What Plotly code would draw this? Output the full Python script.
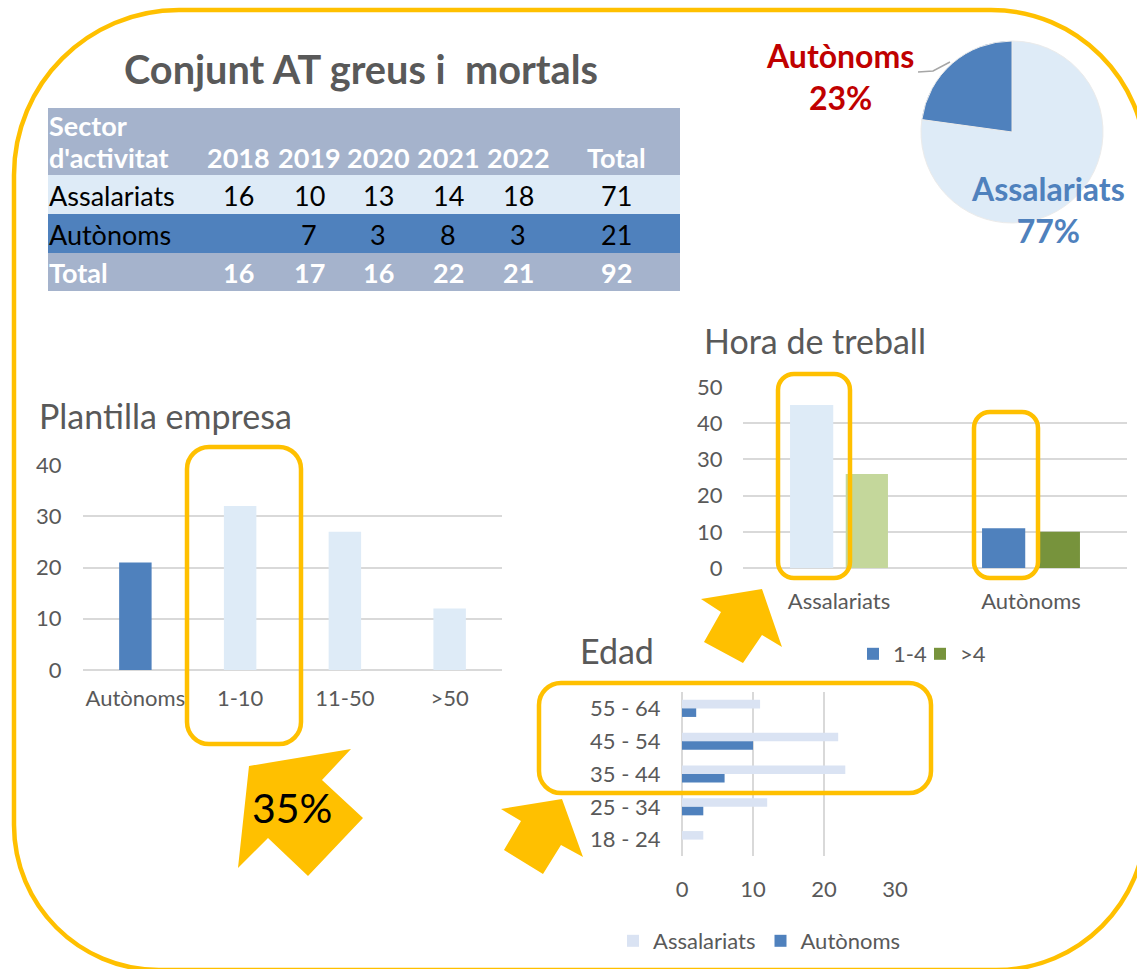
import plotly.graph_objects as go

# ---------------- data ----------------
years = ["2018", "2019", "2020", "2021", "2022"]
assalariats_year = [16, 10, 13, 14, 18]
autonoms_year = [None, 7, 3, 8, 3]
total_year = [16, 17, 16, 22, 21]

pie_labels = ["Assalariats", "Autònoms"]

plantilla_cats = ["Autònoms", "1-10", "11-50", ">50"]
plantilla_vals = [21, 32, 27, 12]

hora_cats = ["Assalariats", "Autònoms"]
hora_1_4 = [45, 11]
hora_gt4 = [26, 10]

edad_cats = ["18 - 24", "25 - 34", "35 - 44", "45 - 54", "55 - 64"]
edad_assalariats = [3, 12, 23, 22, 11]
edad_autonoms = [0, 3, 6, 10, 2]

# ---------------- style ----------------
W, H = 1137, 969
FONT = "Lato"
DARK_BLUE = "#4F81BD"
LIGHT_BLUE = "#DEEBF7"
EDAD_LIGHT = "#DAE3F3"
LIGHT_GREEN = "#C4D79B"
DARK_GREEN = "#77933C"
GRAY = "#595959"
GRID = "#D9D9D9"
YELLOW = "#FFC000"
HDR = "#A5B3CC"
RED = "#C00000"


def px(x):
    return x / W


def py(y):
    return 1 - y / H


def pt(x, y):
    return f"{px(x):.5f},{py(y):.5f}"


K = 0.5523


def rrect(x0, y0, x1, y1, rtl, rtr=None, rbr=None, rbl=None):
    rtr = rtl if rtr is None else rtr
    rbr = rtl if rbr is None else rbr
    rbl = rtl if rbl is None else rbl
    p = f"M {pt(x0 + rtl, y0)} L {pt(x1 - rtr, y0)} "
    p += f"C {pt(x1 - rtr + K * rtr, y0)} {pt(x1, y0 + rtr - K * rtr)} {pt(x1, y0 + rtr)} "
    p += f"L {pt(x1, y1 - rbr)} "
    p += f"C {pt(x1, y1 - rbr + K * rbr)} {pt(x1 - rbr + K * rbr, y1)} {pt(x1 - rbr, y1)} "
    p += f"L {pt(x0 + rbl, y1)} "
    p += f"C {pt(x0 + rbl - K * rbl, y1)} {pt(x0, y1 - rbl + K * rbl)} {pt(x0, y1 - rbl)} "
    p += f"L {pt(x0, y0 + rtl)} "
    p += f"C {pt(x0, y0 + rtl - K * rtl)} {pt(x0 + rtl - K * rtl, y0)} {pt(x0 + rtl, y0)} Z"
    return p


def poly(points):
    return "M " + " L ".join(pt(x, y) for x, y in points) + " Z"


fig = go.Figure()

tot_ass = sum(assalariats_year)
tot_aut = sum(v for v in autonoms_year if v is not None)
tot_all = sum(total_year)

# ---------------- pie ----------------
pie_vals = [tot_ass, tot_aut]
fig.add_trace(go.Pie(
    labels=pie_labels, values=pie_vals, sort=False, direction="clockwise", rotation=0,
    marker=dict(colors=[LIGHT_BLUE, DARK_BLUE], line=dict(color="#EBEBEB", width=1)),
    textinfo="none", hoverinfo="label+percent", showlegend=False,
    domain=dict(x=[px(921), px(1103)], y=[py(223), py(41)]),
))

# ---------------- Plantilla empresa ----------------
fig.add_trace(go.Bar(
    x=plantilla_cats, y=plantilla_vals, xaxis="x", yaxis="y", width=0.31,
    marker=dict(color=[DARK_BLUE] + [LIGHT_BLUE] * 3, line=dict(width=0)), showlegend=False,
))

# ---------------- Hora de treball ----------------
fig.add_trace(go.Bar(
    x=hora_cats, y=hora_1_4, name="1-4", xaxis="x2", yaxis="y2", width=0.225, offset=-0.255,
    marker=dict(color=[LIGHT_BLUE, DARK_BLUE], line=dict(width=0)), showlegend=False,
))
fig.add_trace(go.Bar(
    x=hora_cats, y=hora_gt4, name=">4", xaxis="x2", yaxis="y2", width=0.22, offset=0.035,
    marker=dict(color=[LIGHT_GREEN, DARK_GREEN], line=dict(width=0)), showlegend=False,
))
for nm, col in [("1-4", DARK_BLUE), (">4", DARK_GREEN)]:
    fig.add_trace(go.Bar(x=[None], y=[None], name=nm, xaxis="x2", yaxis="y2",
                         marker=dict(color=col), legend="legend2", showlegend=True))

# ---------------- Edad ----------------
fig.add_trace(go.Bar(
    y=edad_cats, x=edad_assalariats, name="Assalariats", orientation="h", xaxis="x3", yaxis="y3",
    width=0.26, offset=0.0, marker=dict(color=EDAD_LIGHT, line=dict(width=0)), legend="legend3",
))
fig.add_trace(go.Bar(
    y=edad_cats, x=edad_autonoms, name="Autònoms", orientation="h", xaxis="x3", yaxis="y3",
    width=0.26, offset=-0.26, marker=dict(color=DARK_BLUE, line=dict(width=0)), legend="legend3",
))

TICK = 22
tickfont = dict(family=FONT, size=TICK, color=GRAY)
common_cat = dict(type="category", showgrid=False, zeroline=False, showline=False, automargin=False,
                  ticks="outside", tickcolor="rgba(0,0,0,0)", tickfont=tickfont, fixedrange=True)
common_val = dict(showgrid=True, gridcolor=GRID, gridwidth=1.5, zeroline=True, zerolinecolor=GRID,
                  zerolinewidth=1.5, showline=False, ticks="outside", tickcolor="rgba(0,0,0,0)",
                  automargin=False, tickfont=tickfont, dtick=10, fixedrange=True)

fig.update_layout(
    template="none",
    width=W, height=H, margin=dict(l=0, r=0, t=0, b=0, pad=0), autosize=False,
    paper_bgcolor="white", plot_bgcolor="rgba(0,0,0,0)",
    font=dict(family=FONT, color=GRAY),
    barmode="overlay",
    xaxis=dict(domain=[px(83), px(502)], anchor="y", ticklen=9, **common_cat),
    yaxis=dict(domain=[py(670), py(465)], anchor="x", range=[0, 40], ticklen=16, **common_val),
    xaxis2=dict(domain=[px(743), px(1127)], anchor="y2", ticklen=14, **common_cat),
    yaxis2=dict(domain=[py(568), py(387)], anchor="x2", range=[0, 50], ticklen=15, **common_val),
    xaxis3=dict(domain=[px(682), px(895)], anchor="y3", range=[0, 30], ticklen=14, **common_val),
    yaxis3=dict(domain=[py(856), py(692)], anchor="x3", ticklen=16, **common_cat),
    legend2=dict(orientation="h", x=px(853), y=py(654), xanchor="left", yanchor="middle",
                 entrywidth=22, font=dict(family=FONT, size=TICK, color=GRAY), bgcolor="rgba(0,0,0,0)"),
    legend3=dict(orientation="h", x=px(613), y=py(941), xanchor="left", yanchor="middle",
                 font=dict(family=FONT, size=TICK, color=GRAY), bgcolor="rgba(0,0,0,0)",
                 traceorder="normal"),
)

# ---------------- decorations & table ----------------
shapes = []
TABLE_X = (48, 680)
band_y = [(108, 175, HDR), (175, 214, LIGHT_BLUE), (214, 253, DARK_BLUE), (253, 291, HDR)]
for y0, y1, c in band_y:
    shapes.append(dict(type="rect", x0=px(TABLE_X[0]), x1=px(TABLE_X[1]), y0=py(y1), y1=py(y0),
                       fillcolor=c, line=dict(width=0), xref="paper", yref="paper", layer="below"))
# outer border
shapes.append(dict(type="path", path=rrect(14, 10, 1146, 970, 165, 155, 150, 145),
                   line=dict(color=YELLOW, width=4.5), xref="paper", yref="paper", layer="below"))
# highlight boxes
for (x0, y0, x1, y1, r) in [(187, 447, 301, 744, 22), (778, 374, 850, 578, 16),
                            (974, 412, 1038, 578, 16), (539, 683, 931, 793, 22)]:
    shapes.append(dict(type="path", path=rrect(x0, y0, x1, y1, r), line=dict(color=YELLOW, width=4.5),
                       xref="paper", yref="paper", layer="above"))
# arrows
for pts in [
    [(249, 766), (351, 749), (322, 780), (363, 818), (308, 876), (268, 838), (238, 868)],
    [(562, 799), (583, 857), (561, 845), (543, 874), (504, 850), (521, 821), (501, 809)],
    [(762, 589), (782, 647), (762, 635), (743, 663), (704, 642), (721, 612), (701, 599)],
]:
    shapes.append(dict(type="path", path=poly(pts), fillcolor=YELLOW, line=dict(width=0),
                       xref="paper", yref="paper", layer="above"))
# pie leader line
shapes.append(dict(type="path", path=f"M {pt(918, 72)} L {pt(933, 71)} L {pt(950, 62)}",
                   line=dict(color="#A6A6A6", width=1.5), xref="paper", yref="paper"))
fig.update_layout(shapes=shapes)

pct = {lab: round(100 * v / tot_all) for lab, v in zip(pie_labels, pie_vals)}

TITLE = 34
annotations = [
    dict(text="<b>Conjunt AT greus i  mortals</b>", x=px(361), y=py(68), font=dict(size=39.7, color=GRAY)),
    dict(text="Plantilla empresa", x=px(37), y=py(416), xanchor="left", font=dict(size=TITLE, color=GRAY)),
    dict(text="Hora de treball", x=px(702), y=py(340), xanchor="left", font=dict(size=TITLE, color=GRAY)),
    dict(text="Edad", x=px(578), y=py(650), xanchor="left", font=dict(size=TITLE, color=GRAY)),
    dict(text=f"<b>Autònoms<br>{pct['Autònoms']}%</b>", x=px(840), y=py(77), font=dict(size=32, color=RED)),
    dict(text=f"<b>Assalariats<br>{pct['Assalariats']}%</b>", x=px(1048), y=py(209),
         font=dict(size=32, color=DARK_BLUE)),
    dict(text="35%", x=px(292), y=py(807), font=dict(size=41, color="black")),
]

# table text
TF = 27
col_x = [238, 309, 378, 448, 518, 616]
row_y = {"h1": 126, "h2": 158, "r1": 195, "r2": 234, "tot": 273}
annotations.append(dict(text="<b>Sector</b>", x=px(47), y=py(row_y["h1"]), xanchor="left",
                        font=dict(size=TF, color="white")))
annotations.append(dict(text="<b>d'activitat</b>", x=px(47), y=py(row_y["h2"]), xanchor="left",
                        font=dict(size=TF, color="white")))
for cx, lab in zip(col_x, years + ["Total"]):
    annotations.append(dict(text=f"<b>{lab}</b>", x=px(cx), y=py(row_y["h2"]),
                            font=dict(size=TF, color="white")))
rows = [
    ("r1", "Assalariats", assalariats_year + [tot_ass], "black", False),
    ("r2", "Autònoms", autonoms_year + [tot_aut], "black", False),
    ("tot", "Total", total_year + [tot_all], "white", True),
]
for key, lab, vals, colr, bold in rows:
    fmt = (lambda s: f"<b>{s}</b>") if bold else (lambda s: s)
    annotations.append(dict(text=fmt(lab), x=px(47), y=py(row_y[key]), xanchor="left",
                            font=dict(size=TF, color=colr)))
    for cx, v in zip(col_x, vals):
        if v is None:
            continue
        annotations.append(dict(text=fmt(str(v)), x=px(cx), y=py(row_y[key]),
                                font=dict(size=TF, color=colr)))

for a in annotations:
    a.setdefault("xanchor", "center")
    a.update(xref="paper", yref="paper", yanchor="middle", showarrow=False)
    a["font"]["family"] = FONT
fig.update_layout(annotations=annotations)

fig.write_html("out.html", config={"displayModeBar": False},
               post_script="document.body.style.margin='0px';")
